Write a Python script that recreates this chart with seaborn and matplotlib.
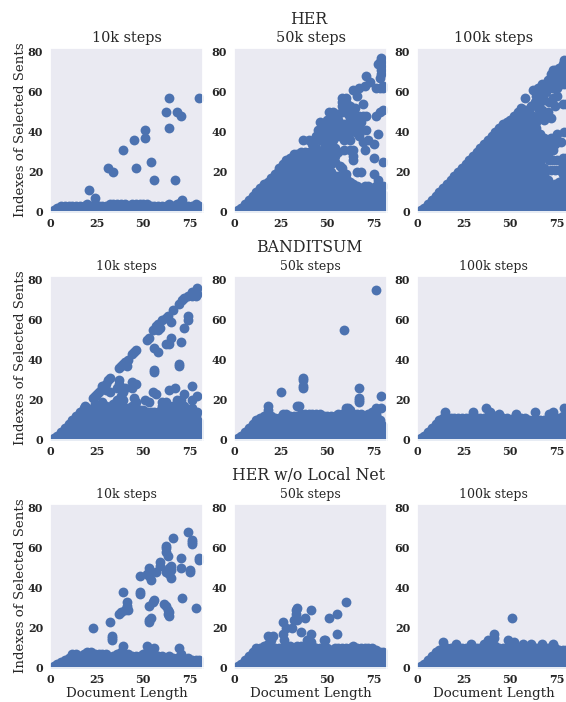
import matplotlib
matplotlib.use('Agg')
import matplotlib.pyplot as plt
import pandas as pd
import seaborn as sns

sns.set_theme(style='dark', font='DejaVu Serif')

W, H = 566, 702

# document lengths at which the height of the solid blue mass was read
doc_len = list(range(0, 81, 2))

# top of the solid mass per panel, one value per doc_len
her_10k_top = [0, 1, 2, 3, 3, 3, 3, 3, 3, 3, 4, 3, 4, 3, 3, 3, 4, 4, 4, 4, 4, 3, 4, 4, 4, 4, 4, 3, 3, 3, 3, 3, 4, 3, 4, 5, 3, 3, 3, 4, 3]
her_50k_top = [0, 1, 2, 4, 6, 8, 10, 12, 14, 15, 17, 19, 22, 24, 26, 27, 29, 29, 30, 30, 30, 29, 27, 26, 28, 20, 20, 18, 18, 17, 17, 15, 14, 13, 12, 13, 13, 12, 13, 11, 9]
her_100k_top = [0, 1, 2, 4, 6, 8, 10, 12, 14, 16, 18, 20, 22, 24, 26, 28, 30, 32, 34, 36, 38, 40, 42, 44, 45, 46, 48, 50, 52, 51, 48, 38, 34, 30, 22, 16, 13, 14, 15, 16, 16]
ban_10k_top = [0, 1, 2, 4, 6, 8, 10, 12, 14, 15, 16, 15, 15, 15, 16, 17, 16, 17, 17, 16, 16, 16, 17, 16, 15, 15, 14, 14, 14, 14, 17, 17, 17, 17, 18, 17, 17, 15, 16, 13, 9]
ban_50k_top = [0, 1, 2, 4, 6, 8, 10, 11, 12, 13, 12, 11, 11, 13, 13, 12, 12, 12, 13, 13, 13, 13, 13, 13, 12, 12, 12, 12, 13, 13, 14, 14, 13, 13, 13, 12, 13, 14, 13, 10, 7]
ban_100k_top = [0, 1, 2, 4, 6, 8, 10, 11, 11, 11, 11, 11, 11, 11, 11, 11, 11, 11, 11, 12, 12, 12, 11, 11, 11, 10, 11, 11, 11, 11, 10, 10, 10, 10, 10, 10, 10, 11, 11, 11, 10]
nol_10k_top = [0, 1, 2, 3, 4, 5, 7, 7, 6, 7, 8, 8, 7, 7, 7, 7, 5, 6, 7, 8, 7, 7, 6, 6, 6, 7, 8, 7, 7, 6, 6, 5, 6, 5, 5, 7, 4, 5, 4, 4, 4]
nol_50k_top = [0, 1, 2, 4, 6, 8, 10, 10, 11, 12, 11, 10, 10, 10, 11, 11, 10, 11, 11, 10, 11, 11, 10, 10, 10, 10, 9, 10, 10, 10, 10, 10, 11, 10, 10, 10, 10, 10, 9, 8, 8]
nol_100k_top = [0, 1, 2, 4, 6, 8, 9, 10, 10, 10, 10, 10, 10, 10, 10, 10, 10, 10, 10, 11, 11, 11, 10, 10, 10, 10, 10, 10, 10, 10, 10, 10, 10, 10, 10, 10, 10, 10, 9, 9, 9]

# separate points above the solid mass, as (document length, index)
her_10k_pts = [(21, 11), (24, 7), (31, 22), (34, 20), (39, 31), (45, 36), (46, 22), (51, 41), (51, 37), (54, 25), (56, 16), (62, 50), (64, 57), (64, 42), (67, 16), (68, 50), (70, 48), (71, 6), (80, 57)]
her_50k_pts = [(79, 77), (78, 75), (77, 74), (79, 75), (79, 73), (79, 71), (79, 69), (78, 67), (71, 68), (73, 65), (64, 61), (67, 62), (70, 63), (66, 58), (76, 62), (78, 62), (80, 62), (80, 63),
               (58, 57), (60, 57), (58, 55), (60, 55), (58, 53), (60, 53), (62, 53), (69, 54), (78, 50), (80, 51), (76, 48), (51, 50), (53, 50), (58, 50), (61, 49), (64, 50), (67, 48), (69, 48), (71, 48), (55, 48),
               (46, 45), (50, 46), (53, 46), (56, 46), (59, 44), (62, 44), (52, 43), (56, 42), (60, 42), (51, 42), (45, 41), (49, 41), (37, 36), (40, 36), (43, 36), (46, 36), (48, 35), (50, 36), (53, 36), (59, 36), (62, 36),
               (67, 42), (67, 38), (71, 41), (77, 39), (72, 36), (69, 35), (70, 31), (75, 34), (56, 30), (59, 31), (62, 31), (64, 31), (64, 26), (64, 28), (75, 27), (80, 25), (66, 20), (68, 20), (75, 19), (60, 19), (57, 23), (54, 25), (58, 22),
               (49, 33), (51, 30), (54, 28), (50, 27), (67, 39), (68, 45), (66, 43), (77, 16), (80, 13), (47, 30), (44, 32), (42, 34), (52, 24),
               (50, 25), (50, 29), (52, 28), (52, 33), (54, 32), (48, 31), (46, 29), (48, 43), (54, 44), (57, 44), (58, 40), (55, 38), (57, 38), (53, 40), (47, 39), (44, 38), (50, 39), (61, 39), (63, 41), (65, 40), (64, 46), (66, 47), (62, 47), (56, 49), (60, 51), (62, 50), (65, 52)]
her_100k_pts = [(79, 76), (78, 74), (80, 75), (76, 72), (74, 71), (72, 69), (71, 66), (73, 66), (75, 67), (77, 68), (79, 70), (73, 71), (70, 66), (72, 66), (74, 65), (76, 66), (78, 66), (80, 66), (67, 64), (65, 62), (62, 61), (65, 60), (67, 60), (58, 57), (66, 55),
                (73, 57), (71, 55), (75, 58), (78, 54), (80, 54), (70, 50), (72, 47), (68, 49), (74, 53), (61, 53), (60, 50), (65, 48), (61, 46), (64, 45), (68, 46),
                (68, 37), (70, 36), (72, 37), (66, 35), (68, 33), (70, 32), (72, 33), (74, 34), (74, 36), (67, 30), (70, 28), (68, 30), (73, 31), (75, 39), (77, 35), (79, 40), (66, 39), (64, 42),
                (71, 26), (73, 26), (75, 26), (78, 27), (80, 27), (72, 21), (74, 21), (78, 23), (80, 22), (76, 21), (78, 19), (80, 18),
                (62, 45), (62, 48), (64, 58), (66, 58), (68, 56), (63, 55), (65, 52), (67, 51), (69, 60), (71, 62), (73, 62), (75, 62), (77, 64), (79, 64)]
ban_10k_pts = [(79, 76), (78, 74), (79, 73), (78, 72), (76, 74), (76, 72), (74, 72), (72, 71), (71, 70), (69, 68), (66, 65), (63, 62), (62, 61), (60, 60), (58, 58), (57, 57), (59, 56), (55, 55), (58, 55), (65, 59), (74, 62), (74, 60), (72, 56), (52, 50), (53, 51), (65, 51), (62, 48), (70, 49), (64, 48), (56, 46), (58, 44),
               (46, 45), (45, 44), (44, 43), (42, 40), (40, 39), (39, 38), (38, 37), (37, 36), (41, 37), (69, 38), (69, 37), (56, 35), (56, 34), (32, 31), (31, 30), (30, 28), (29, 27), (28, 26), (26, 24), (25, 23), (24, 22), (23, 21), (32, 24), (30, 25), (28, 27),
               (37, 30), (37, 28), (36, 26), (40, 26), (39, 24), (44, 29), (45, 28), (46, 28), (44, 26), (38, 22), (39, 20), (45, 21), (46, 19), (51, 20), (53, 19), (55, 24), (57, 23), (64, 25), (67, 26), (72, 23), (76, 27), (79, 22), (76, 20), (68, 20), (62, 19), (60, 19), (70, 20), (79, 14), (28, 19), (24, 18), (34, 18), (36, 20), (19, 17), (18, 16)]
ban_50k_pts = [(76, 75), (59, 55), (37, 31), (37, 30), (37, 27), (37, 26), (25, 24), (67, 26), (67, 21), (67, 20), (67, 19), (79, 22), (76, 16), (79, 16), (18, 17), (18, 15), (34, 17), (35, 17), (60, 16), (61, 16), (62, 15)]
ban_100k_pts = [(15, 14), (30, 14), (37, 16), (39, 14), (44, 13), (53, 13), (63, 14), (71, 13), (73, 14), (79, 16), (78, 12)]
nol_10k_pts = [(74, 68), (76, 64), (76, 63), (76, 62), (66, 65), (62, 61), (62, 60), (62, 58), (63, 56), (80, 55), (80, 54), (70, 55), (59, 53), (59, 51), (53, 50), (52, 47), (53, 46), (54, 44), (48, 46), (57, 48), (65, 51), (65, 49), (64, 50), (62, 48), (64, 47), (65, 45), (70, 50), (75, 49), (75, 48), (71, 35), (78, 30),
               (39, 38), (48, 38), (48, 37), (56, 34), (55, 33), (53, 31), (61, 32), (62, 31), (63, 27), (64, 28), (64, 26), (63, 29), (41, 33), (41, 31), (42, 29), (40, 29), (38, 28), (37, 27), (32, 23), (33, 16), (33, 15), (33, 14), (23, 20), (54, 25), (53, 24), (53, 23), (39, 11), (52, 11), (56, 10), (69, 10)]
nol_50k_pts = [(60, 33), (34, 30), (33, 29), (33, 27), (41, 29), (55, 27), (51, 25), (38, 25), (32, 24), (34, 24), (26, 23), (28, 20), (31, 20), (26, 17), (36, 18), (41, 17), (55, 17), (18, 16), (21, 16), (27, 14), (39, 14), (41, 13), (48, 14), (49, 14), (20, 14)]
nol_100k_pts = [(51, 25), (41, 17), (41, 15), (38, 14), (14, 13), (49, 14), (52, 13), (21, 12), (29, 12), (36, 12), (57, 12), (61, 12), (67, 12), (73, 12)]

panel_tops = [[her_10k_top, her_50k_top, her_100k_top],
              [ban_10k_top, ban_50k_top, ban_100k_top],
              [nol_10k_top, nol_50k_top, nol_100k_top]]
panel_pts = [[her_10k_pts, her_50k_pts, her_100k_pts],
             [ban_10k_pts, ban_50k_pts, ban_100k_pts],
             [nol_10k_pts, nol_50k_pts, nol_100k_pts]]

steps = ['10k steps', '50k steps', '100k steps']
models = ['HER', 'BANDITSUM', 'HER w/o Local Net']
x_ticks = [0, 25, 50, 75]
y_ticks = [0, 20, 40, 60, 80]

# pixel boxes of the axes in the reference
lefts = [50, 234, 417]
tops = [48, 276, 504]
AX_W, AX_H = 153, 163.5
model_y = [19, 247, 475]


def panel_frame(top, pts):
    # every selected index up to the top of the mass, then the loose points
    xs, ys = [], []
    for x, t in zip(doc_len, top):
        for y in range(0, t + 1):
            xs.append(x)
            ys.append(y)
    for x, y in pts:
        xs.append(x)
        ys.append(y)
    return pd.DataFrame({'length': xs, 'index': ys})


fig = plt.figure(figsize=(W / 100, H / 100), dpi=100)

for r in range(3):
    for c in range(3):
        ax = fig.add_axes([lefts[c] / W, 1 - (tops[r] + AX_H) / H, AX_W / W, AX_H / H])
        df = panel_frame(panel_tops[r][c], panel_pts[r][c])
        sns.scatterplot(data=df, x='length', y='index', ax=ax, s=50, color='#4C72B0', linewidth=0)
        ax.set_xlim(0, 82)
        ax.set_ylim(0, 82)
        ax.set_xticks(x_ticks)
        ax.set_yticks(y_ticks)
        ax.tick_params(axis='x', labelsize=8, length=0, pad=4.5)
        ax.tick_params(axis='y', labelsize=8, length=0, pad=5)
        for lab in ax.get_xticklabels() + ax.get_yticklabels():
            lab.set_fontweight('bold')
        ax.set_title(steps[c], fontsize=10.4 if r == 0 else 9, pad=4)
        ax.set_xlabel('Document Length' if r == 2 else '', fontsize=9.6, labelpad=1.5)
        ax.set_ylabel('Indexes of Selected Sents' if c == 0 else '', fontsize=9.6, labelpad=0.5)
    fig.text(309 / W, 1 - model_y[r] / H, models[r], fontsize=11.3, ha='center', va='center', color='.15')

fig.savefig('out.png', dpi=100)
